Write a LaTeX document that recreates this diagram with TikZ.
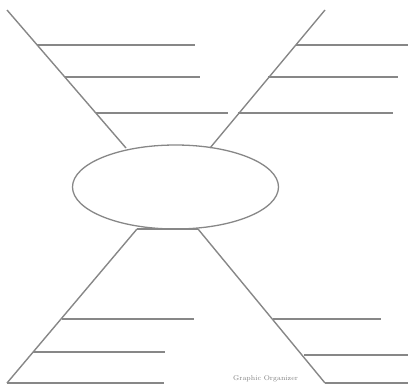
\documentclass[tikz,border=0pt]{standalone}
\usepackage{tikz}
\usetikzlibrary{shapes.geometric}
\definecolor{mapgray}{RGB}{135,135,135}

\begin{document}
\begin{tikzpicture}[x=1pt,y=-1pt,
    leg/.style={mapgray,line width=1.4pt},
    hubstyle/.style={draw=mapgray,line width=1.3pt,ellipse,inner sep=0pt,
      minimum width=206pt,minimum height=84pt}]
        \useasboundingbox (0,0) rectangle (408,388);
        \node[hubstyle] (hub) at (175.5,187) {};
        % ends of the four arms
        \coordinate (tlout) at (7,10);   \coordinate (tlin) at (126,148);
        \coordinate (trout) at (325,10); \coordinate (trin) at (210,148);
        \coordinate (blout) at (7,383);  \coordinate (blin) at (137,229);
        \coordinate (brout) at (325,383);\coordinate (brin) at (198,229);
        \draw[leg] (tlout) -- (tlin);
        \draw[leg] (trout) -- (trin);
        \draw[leg] (blin) -- (blout);
        \draw[leg] (brin) -- (brout);
        \draw[leg] (blin) -- (brin);
        % writing lines
        \foreach \y/\a/\b in {45/37/195,77/65/200,113/96/228}{
            \draw[leg] (\a,\y) -- (\b,\y);}
        \foreach \y/\a/\b in {45/296/408,77/268/398,113/238/393}{
            \draw[leg] (\a,\y) -- (\b,\y);}
        \foreach \y/\a/\b in {319/62/194,352/33/165,383/7/164}{
            \draw[leg] (\a,\y) -- (\b,\y);}
        \foreach \y/\a/\b in {319/273/381,355/304/408,383/325/408}{
            \draw[leg] (\a,\y) -- (\b,\y);}
        \node[gray,font=\fontsize{7}{8}\selectfont,anchor=west,inner sep=0pt] (credit) at (233,379) {Graphic Organizer};
      \end{tikzpicture}
\end{document}
